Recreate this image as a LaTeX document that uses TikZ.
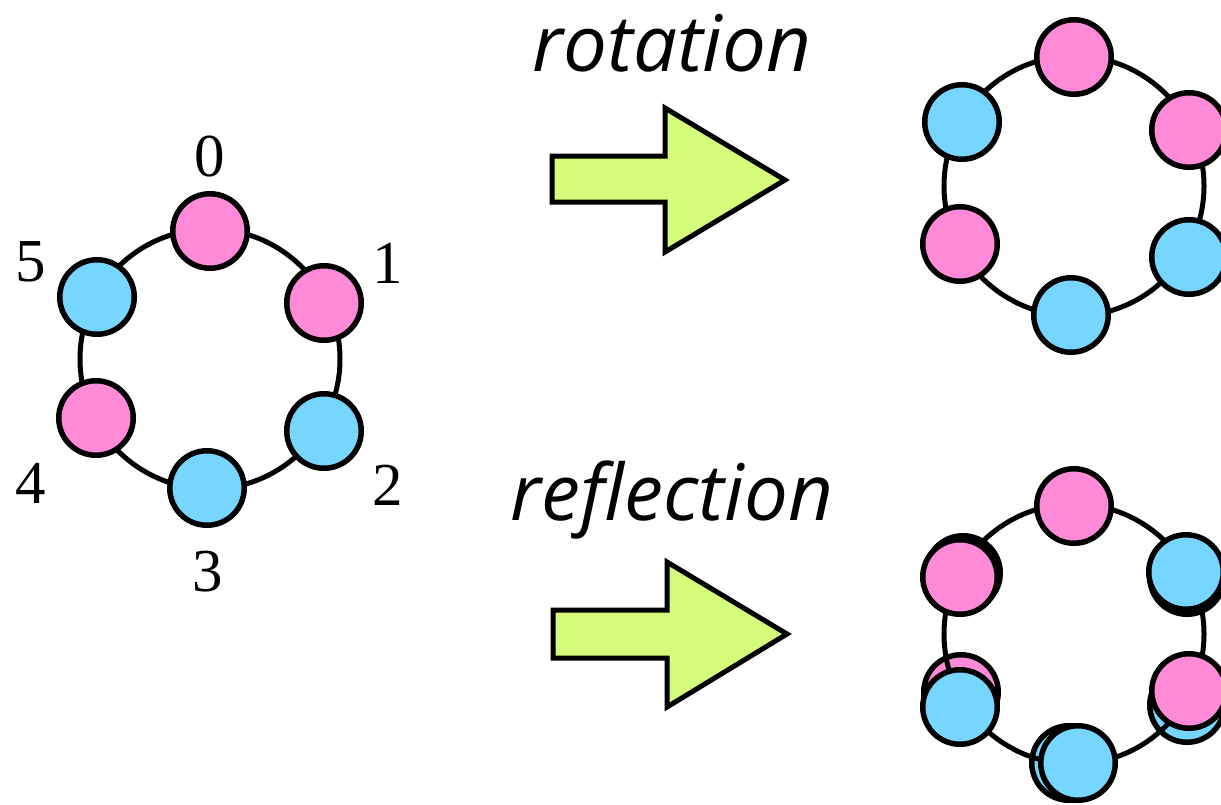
\documentclass[tikz,border=0pt]{standalone}
\usepackage{fontspec}
\setmainfont{Liberation Serif}
\newfontfamily\captionsans{Open Sans}
\definecolor{beadpink}{HTML}{FF8AD8}
\definecolor{beadblue}{HTML}{76D6FF}
\definecolor{arrowgreen}{HTML}{D4FB79}
\tikzset{
  ring/.style={draw=black, line width=5pt},
  bead/.style={circle, draw=black, line width=5.5pt, inner sep=0pt, minimum size=74.5pt},
  pinkbead/.style={bead, fill=beadpink},
  bluebead/.style={bead, fill=beadblue},
  poslabel/.style={font=\fontsize{61}{72}\selectfont, inner sep=0pt},
  opname/.style={font=\captionsans\itshape\fontsize{78}{94}\selectfont, inner sep=0pt, anchor=base},
  bigarrow/.style={draw=black, fill=arrowgreen, line width=5pt, line join=miter},
}
\begin{document}
\begin{tikzpicture}[x=1pt, y=-1pt]
\useasboundingbox (0,0) rectangle (1221,804);
\clip (0,0) rectangle (1221,804);

% ---- original necklace with positions ----
\draw[ring] (210,359) circle (130);
\node[pinkbead] (o0) at (210,231) {};
\node[pinkbead] (o1) at (324,303) {};
\node[bluebead] (o2) at (324,431) {};
\node[bluebead] (o3) at (207,488) {};
\node[pinkbead] (o4) at (96,418) {};
\node[bluebead] (o5) at (97,297) {};
\node[poslabel] (l0) at (210,157) {0};
\node[poslabel] (l1) at (388,263) {1};
\node[poslabel] (l2) at (388,485) {2};
\node[poslabel] (l3) at (208,572) {3};
\node[poslabel] (l4) at (31,483) {4};
\node[poslabel] (l5) at (31,262) {5};

% ---- operation names and arrows ----
\node[opname] (rot) at (672,71) {rotation};
\node[opname] (ref) at (672,520) {reflection};
\draw[bigarrow] (552,156) -- (665,156) -- (665,108) -- (785,180)
  -- (665,252) -- (665,202) -- (552,202) -- cycle;
\draw[bigarrow] (553,610) -- (667,610) -- (667,562) -- (787,634)
  -- (667,707) -- (667,658) -- (553,658) -- cycle;

% ---- rotated necklace ----
\draw[ring] (1074,186) circle (130);
\node[pinkbead] (r0) at (1074,57) {};
\node[pinkbead] (r1) at (1189,130) {};
\node[bluebead] (r2) at (1189,257) {};
\node[bluebead] (r3) at (1071,315) {};
\node[pinkbead] (r4) at (960,244) {};
\node[bluebead] (r5) at (962,122) {};

% ---- reflected necklace: previous positions underneath ----
\node[bluebead] (g5) at (963,573) {};
\node[pinkbead] (g1) at (1187,577) {};
\node[pinkbead] (g4) at (961,692) {};
\node[bluebead] (g2) at (1187,705) {};
\node[bluebead] (g3) at (1069,763) {};
\draw[ring] (1074,634) circle (130);
\node[pinkbead] (f0) at (1074,506) {};
\node[pinkbead] (f1) at (960,577) {};
\node[bluebead] (f5) at (1186,572) {};
\node[bluebead] (f2) at (960,707) {};
\node[pinkbead] (f4) at (1189,691) {};
\node[bluebead] (f3) at (1078,763) {};
\end{tikzpicture}
\end{document}
